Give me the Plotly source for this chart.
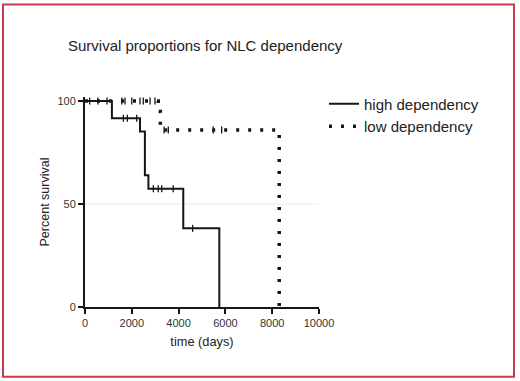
import plotly.graph_objects as go

# Kaplan-Meier step data (days, percent survival)
high_t = [0, 1150, 1150, 2350, 2350, 2560, 2560, 2710, 2710, 4200, 4200, 5740, 5740]
high_s = [100, 100, 91.7, 91.7, 85.3, 85.3, 64, 64, 57.4, 57.4, 38.2, 38.2, 0]
high_cens_t = [200, 550, 940, 1640, 1810, 2210, 2920, 3130, 3280, 3770, 4600]
high_cens_s = [100, 100, 100, 91.7, 91.7, 91.7, 57.4, 57.4, 57.4, 57.4, 38.2]

low_t = [0, 3130, 3130, 3220, 3220, 3320, 3320, 8300, 8300]
low_s = [100, 100, 95, 95, 88.5, 88.5, 86, 86, 0]
low_cens_t = [1570, 1710, 2000, 2350, 2490, 2780, 2990, 3380, 3560, 5480, 5840]
low_cens_s = [100, 100, 100, 100, 100, 100, 100, 86, 86, 86, 86]

x_ticks = [0, 2000, 4000, 6000, 8000, 10000]
y_ticks = [0, 50, 100]

INK = "#161616"
FONT = "Liberation Sans, Arial, sans-serif"

fig = go.Figure()
fig.add_trace(go.Scatter(x=high_t, y=high_s, mode="lines", name="high dependency",
                         line=dict(color=INK, width=2),
                         legendgroup="h"))
fig.add_trace(go.Scatter(x=high_cens_t, y=high_cens_s, mode="markers", showlegend=False,
                         marker=dict(symbol="line-ns", size=5, line=dict(color=INK, width=1.3)),
                         legendgroup="h"))
fig.add_trace(go.Scatter(x=low_t, y=low_s, mode="lines", name="low dependency",
                         line=dict(color=INK, width=3.5, dash="3px,9px"),
                         legendgroup="l"))
fig.add_trace(go.Scatter(x=low_cens_t, y=low_cens_s, mode="markers", showlegend=False,
                         marker=dict(symbol="line-ns", size=5, line=dict(color=INK, width=1.3)),
                         legendgroup="l"))

# plot area geometry in pixels: x 85..319, y 96.6..306.7
L, R, T, B = 85, 520 - 319, 96.6, 381 - 306.7
W, H = 234, 306.7 - 96.6

def px(p):
    return (p - L) / W

def py(p):
    return (306.7 - p) / H

fig.update_layout(
    width=520, height=381,
    margin=dict(l=L, r=R, t=T, b=B, pad=0),
    paper_bgcolor="white", plot_bgcolor="white",
    font=dict(family=FONT, color="#222222", size=11),
    showlegend=True,
    legend=dict(x=px(324), y=py(87), xanchor="left", yanchor="top",
                font=dict(size=15, color="#222222"), bgcolor="rgba(0,0,0,0)",
                tracegroupgap=0, itemwidth=30),
    annotations=[
        dict(text="Survival proportions for NLC dependency", x=px(66), y=py(45),
             xref="paper", yref="paper", xanchor="left", yanchor="middle",
             showarrow=False, font=dict(size=15, color="#222222", family=FONT)),
    ],
    shapes=[
        dict(type="line", xref="x", yref="y", x0=0, x1=10000, y0=50, y1=50,
             line=dict(color="#ececec", width=1), layer="below"),
        dict(type="rect", xref="paper", yref="paper", x0=px(3), x1=px(514),
             y0=py(376.5), y1=py(4), line=dict(color="#c43a50", width=2)),
    ],
)
fig.update_xaxes(range=[0, 10000], tickvals=x_ticks, ticktext=[str(v) for v in x_ticks],
                 showline=True, linecolor=INK, linewidth=2, ticks="outside", ticklen=5,
                 tickwidth=1.5, tickcolor=INK, showgrid=False, zeroline=False,
                 tickfont=dict(size=11, color="#333333"),
                 title=dict(text="time (days)", font=dict(size=12.8, color="#222222"), standoff=9))
fig.update_yaxes(range=[0, 102], tickvals=y_ticks, ticktext=[str(v) for v in y_ticks],
                 showline=True, linecolor=INK, linewidth=2, ticks="outside", ticklen=5,
                 tickwidth=1.5, tickcolor=INK, showgrid=False, zeroline=False,
                 tickfont=dict(size=11, color="#333333"),
                 title=dict(text="Percent survival", font=dict(size=12.5, color="#222222"), standoff=5))

fig.write_html("out.html", config={"displayModeBar": False},
               post_script="document.body.style.margin='0';document.body.style.overflow='hidden';")
